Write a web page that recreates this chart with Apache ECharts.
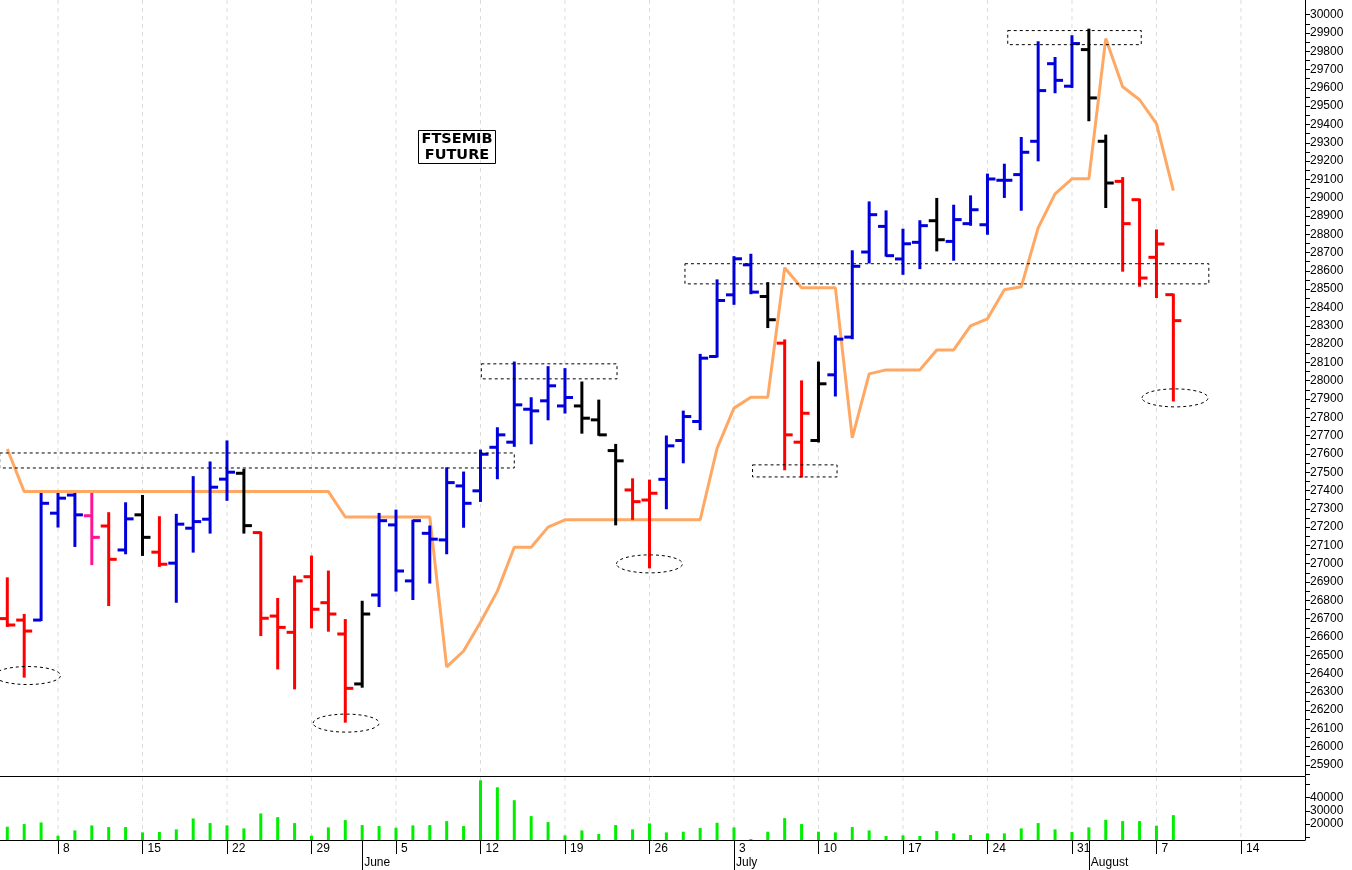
<!DOCTYPE html>
<html><head><meta charset="utf-8">
<script src="https://cdn.jsdelivr.net/npm/echarts@6/dist/echarts.min.js"></script>
<style>html,body{margin:0;padding:0;background:#fff}#c{width:1352px;height:870px}</style>
</head><body><div id="c"></div>
<script>
// trading-day index 0 = May 3, Mondays at 3,8,13,...
const mondayIdx = [3,8,13,18,23,28,33,38,43,48,53,58,63,68,73];
const mondayLabels = ['8','15','22','29','5','12','19','26','3','10','17','24','31','7','14'];
const monthIdx = [-1.25,21,43,64];
const monthLabels = ['May','June','July','August'];
const opens = [26700,26692,26692,27276,27375,27262,27206,27075,27267,27063,27003,27194,27243,27462,27494,27170,26714,26625,26929,26787,26616,26343,26829,27212,26906,27166,27130,27425,27398,27636,27664,27844,27890,27862,27862,27786,27618,27403,27348,27461,27673,27777,28132,28469,28633,28460,28205,27664,27673,28032,28238,28703,28843,28665,28756,28874,28761,28858,28852,29095,29126,29308,29732,29609,29809,29308,29089,28989,28674,28470];
const highs = [26920,26720,27381,27381,27381,27381,27276,27330,27370,27254,27267,27473,27553,27668,27513,27170,26807,26929,27039,26957,26692,26792,27272,27290,27235,27203,27521,27498,27618,27740,28099,27904,28074,28063,27990,27891,27649,27461,27454,27695,27831,28141,28548,28675,28688,28533,28220,27996,28099,28242,28707,28974,28925,28825,28871,28993,28956,29007,29126,29180,29326,29849,29763,29882,29918,29339,29107,28989,28821,28470];
const lows = [26660,26383,26692,27203,27097,26998,26774,27057,27048,26988,26792,27066,27170,27349,27170,26610,26428,26319,26652,26634,26137,26328,26769,26853,26807,26897,27057,27202,27343,27467,27644,27658,27789,27826,27716,27704,27215,27245,26980,27303,27554,27735,28132,28420,28478,28293,27516,27476,27668,27919,28232,28646,28683,28584,28615,28712,28661,28852,28803,29004,28934,29204,29576,29605,29423,28949,28601,28519,28457,27892];
const closes = [26665,26632,27330,27358,27267,27144,27024,27245,27144,26997,27216,27230,27418,27500,27208,26702,26652,26906,26751,26725,26319,26725,27235,26960,27235,27134,27443,27330,27598,27704,27868,27835,27972,27908,27795,27704,27562,27339,27385,27644,27804,28123,28438,28666,28484,28333,27704,27822,27983,28227,28625,28907,28683,28748,28847,28770,28880,28934,29102,29095,29248,29585,29641,29842,29545,29080,28858,28561,28747,28328];
const barState = 'rrbbbprbkrbbbbkrrrrrrkbbbbbbbbbbbbkkkrrbbbbbbkrrkbbbbbbkbbbbbbbbkkrrrr'.split('');
const stop = [27627,27394,27394,27394,27394,27394,27394,27394,27394,27394,27394,27394,27394,27394,27394,27394,27394,27394,27394,27394,27255,27255,27255,27255,27255,27255,26436,26523,26680,26850,27090,27090,27200,27240,27240,27240,27240,27240,27240,27240,27240,27240,27630,27850,27910,27910,28617,28508,28508,28508,27688,28037,28059,28059,28059,28168,28168,28300,28338,28497,28513,28835,29021,29103,29103,29869,29606,29535,29404,29038];
const volume = [18000,20000,21250,11250,15250,19000,17750,17750,13750,14000,16000,24250,20750,19000,16750,28000,25250,20750,11250,17500,23000,19250,18500,17250,19000,19250,22250,18500,53000,47750,38000,26000,21500,11500,15250,12500,19250,16000,20500,13750,14250,17000,21000,17500,8750,14250,24500,20000,14250,13750,17750,15250,11000,11500,11000,14750,13000,11750,13000,13000,16750,20750,16000,14000,17500,23250,22250,22250,18750,26750];
const priceTicks = Array.from({length:42},(_,i)=>25900+i*100);
const volTicks = [20000,30000,40000];
// annotation boxes: [x0,x1,priceLow,priceHigh]
const boxes = [[-0.45,30.0,27523,27605],[28.05,36.08,28010,28092],[40.1,71.1,28529,28639],[44.1,49.1,27474,27540],[59.2,67.1,29836,29913]];
// annotation ellipses: [x, price]
const ellipses = [[1.2,26389],[20.05,26129],[38.0,26999],[69.1,27906]];

const palette = {b:'#0000dd', r:'#ff0000', k:'#000000', p:'#ff1493'};
const XMIN = -0.432, XMAX = 76.79;
const ohlcData = opens.map((o,i)=>[i,o,highs[i],lows[i],closes[i]]);
const chart = echarts.init(document.getElementById('c'));
const font = 'Liberation Sans';
const gridLineItem = (params,api)=>{
  const cs=params.coordSys; const p=api.coord([api.value(0),0]);
  return {type:'line',shape:{x1:p[0],y1:cs.y,x2:p[0],y2:cs.y+cs.height},
    style:{stroke:'#dcdcdc',lineWidth:1,lineDash:[4,4]}};
};
chart.setOption({
  animation:false,
  title:{text:'FTSEMIB\nFUTURE', left:454, top:130, textAlign:'center', borderColor:'#000', borderWidth:1, padding:[1,3,1,3],
    textStyle:{fontFamily:'DejaVu Sans', fontSize:14.5, fontWeight:'bold', color:'#000', lineHeight:16, align:'center'}},
  grid:[{left:0,right:47,top:0,bottom:94},{left:0,right:47,top:777,bottom:30}],
  xAxis:[
    {gridIndex:0,type:'value',min:XMIN,max:XMAX,axisLine:{show:true,onZero:false,lineStyle:{color:'#000',width:1}},axisTick:{show:false},axisLabel:{show:false},
     splitLine:{show:false}},
    {gridIndex:1,type:'value',min:XMIN,max:XMAX,axisLine:{show:true,onZero:false,lineStyle:{color:'#000',width:1}},
     axisTick:{show:true,length:14,lineStyle:{color:'#000'},customValues:mondayIdx},
     axisLabel:{show:true,customValues:mondayIdx,formatter:v=>mondayLabels[mondayIdx.indexOf(Math.round(v))]||'',
       align:'left',margin:3,padding:[0,0,0,5],fontFamily:font,fontSize:12,color:'#000'},splitLine:{show:false}},
    {gridIndex:1,type:'value',min:XMIN,max:XMAX,position:'bottom',axisLine:{show:false,onZero:false},
     axisTick:{show:true,length:30,lineStyle:{color:'#000'},customValues:monthIdx.slice(1)},
     axisLabel:{show:true,customValues:monthIdx,formatter:v=>{let k=monthIdx.findIndex(m=>Math.abs(m-v)<0.01);return k>=0?monthLabels[k]:'';},
       align:'left',margin:17,padding:[0,0,0,2],fontFamily:font,fontSize:12,color:'#000'},splitLine:{show:false}}
  ],
  yAxis:[
    {gridIndex:0,type:'value',position:'right',min:25840,max:30080,axisLine:{show:true,onZero:false,lineStyle:{color:'#000'}},
     axisTick:{show:true,length:5,lineStyle:{color:'#000'},customValues:Array.from({length:84},(_,i)=>25850+i*50)},
     axisLabel:{customValues:priceTicks,formatter:v=>String(v),fontFamily:font,fontSize:12,color:'#000',margin:5},
     splitLine:{show:false}},
    {gridIndex:1,type:'value',position:'right',min:8000,max:55500,axisLine:{show:true,onZero:false,lineStyle:{color:'#000'}},
     axisTick:{show:true,length:5,lineStyle:{color:'#000'},customValues:[10000,20000,30000,40000,50000]},
     axisLabel:{customValues:volTicks,formatter:v=>String(v),fontFamily:font,fontSize:12,color:'#000',margin:5},splitLine:{show:false}}
  ],
  series:[
    {type:'custom',xAxisIndex:0,yAxisIndex:0,data:mondayIdx.map(v=>[v]),silent:true,z:0,renderItem:gridLineItem},
    {type:'custom',xAxisIndex:1,yAxisIndex:1,data:mondayIdx.map(v=>[v]),silent:true,z:0,renderItem:gridLineItem},
    {type:'line',xAxisIndex:0,yAxisIndex:0,data:stop.map((v,i)=>[i,v]),showSymbol:false,
     lineStyle:{color:'#FFA864',width:3},itemStyle:{color:'#FFA864'},z:3},
    {type:'custom',xAxisIndex:0,yAxisIndex:0,data:ohlcData,z:4,
     renderItem:(params,api)=>{
       const i=api.value(0);
       const h=api.coord([i,api.value(2)]), l=api.coord([i,api.value(3)]);
       const o=api.coord([i,api.value(1)]), c=api.coord([i,api.value(4)]);
       const col=palette[barState[i]];
       const st={stroke:col,lineWidth:3};
       return {type:'group',children:[
         {type:'line',shape:{x1:h[0],y1:h[1]-1,x2:l[0],y2:l[1]+1},style:st},
         {type:'line',shape:{x1:o[0]-8,y1:o[1],x2:o[0],y2:o[1]},style:st},
         {type:'line',shape:{x1:c[0],y1:c[1],x2:c[0]+8,y2:c[1]},style:st}]};
     }},
    {type:'custom',xAxisIndex:0,yAxisIndex:0,data:boxes,z:5,silent:true,
     renderItem:(params,api)=>{
       const a=api.coord([api.value(0),api.value(3)]), b=api.coord([api.value(1),api.value(2)]);
       return {type:'rect',shape:{x:a[0],y:a[1],width:b[0]-a[0],height:b[1]-a[1]},
         style:{fill:'none',stroke:'#000',lineWidth:1,lineDash:[3,3]}};
     }},
    {type:'custom',xAxisIndex:0,yAxisIndex:0,data:ellipses,z:5,silent:true,
     renderItem:(params,api)=>{
       const p=api.coord([api.value(0),api.value(1)]);
       return {type:'ellipse',shape:{cx:p[0],cy:p[1],rx:33,ry:9},
         style:{fill:'none',stroke:'#000',lineWidth:1,lineDash:[3,3]}};
     }},
    {type:'bar',xAxisIndex:1,yAxisIndex:1,data:volume.map((v,i)=>[i,v]),barWidth:3,
     itemStyle:{color:'#00ee00'},z:3}
  ]
});
</script></body></html>
